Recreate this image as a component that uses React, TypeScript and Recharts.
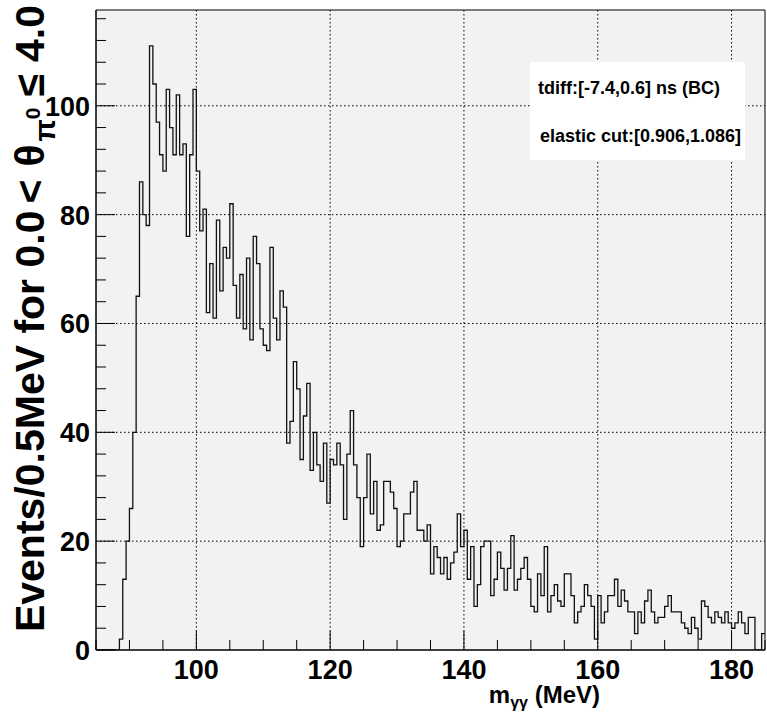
import React from "react";
import {
  ComposedChart,
  Line,
  XAxis,
  YAxis,
  CartesianGrid,
  ReferenceArea,
} from "recharts";

// histogram: 0.5 MeV bins starting at 85 MeV
const binLow = 85;
const binWidth = 0.5;
const counts = [
  0, 0, 0, 0, 0, 0, 0, 2, 13, 20,
  26, 40, 65, 86, 80, 78, 111, 104, 97, 91,
  88, 103, 96, 91, 102, 91, 93, 76, 91, 103,
  88, 77, 81, 62, 71, 61, 79, 66, 74, 72,
  82, 67, 61, 69, 59, 72, 57, 76, 71, 59,
  56, 55, 74, 61, 57, 66, 63, 38, 42, 53,
  48, 35, 43, 49, 33, 40, 34, 31, 38, 27,
  35, 34, 38, 34, 24, 36, 44, 34, 28, 19,
  28, 36, 25, 31, 22, 23, 31, 31, 29, 26,
  19, 20, 25, 25, 29, 31, 22, 22, 20, 23,
  14, 19, 17, 14, 17, 13, 16, 18, 25, 19,
  22, 13, 19, 8, 12, 19, 20, 20, 10, 13,
  18, 15, 11, 15, 21, 11, 13, 15, 17, 13,
  8, 7, 14, 10, 19, 7, 10, 12, 9, 8,
  14, 14, 10, 5, 7, 8, 12, 10, 8, 2,
  10, 5, 7, 10, 10, 13, 8, 11, 9, 7,
  7, 3, 7, 5, 9, 11, 7, 5, 6, 6,
  8, 10, 7, 7, 7, 5, 4, 3, 6, 4,
  2, 9, 8, 6, 5, 7, 6, 5, 7, 5,
  4, 5, 7, 5, 3, 6, 6, 0, 0, 3,
];

const xMin = 85;
const xMax = 185;
const yMax = 117.6;
const xTicks = [85, 90, 95, 100, 105, 110, 115, 120, 125, 130, 135, 140, 145, 150, 155, 160, 165, 170, 175, 180, 185];
const xLabels = [100, 120, 140, 160, 180];
const yTicks = [0, 4, 8, 12, 16, 20, 24, 28, 32, 36, 40, 44, 48, 52, 56, 60, 64, 68, 72, 76, 80, 84, 88, 92, 96, 100, 104, 108, 112, 116];
const yLabels = [0, 20, 40, 60, 80, 100];
const infoLines = ["tdiff:[-7.4,0.6] ns (BC)", "elastic cut:[0.906,1.086]"];

// step line needs one point per bin edge
const data = counts.map((c, i) => ({ x: binLow + i * binWidth, y: c }));
data.push({ x: binLow + counts.length * binWidth, y: counts[counts.length - 1] });

const font = "'Liberation Sans', Arial, Helvetica, sans-serif";

function XTick(props: any) {
  const { x, y, payload } = props;
  const major = xLabels.includes(payload.value);
  return (
    <g>
      <line x1={x} y1={y} x2={x} y2={y - (major ? 19 : 10)} stroke="#000" strokeWidth={1} />
      {major && (
        <text x={x} y={y + 29} textAnchor="middle" fontFamily={font} fontWeight="bold" fontSize={27} fill="#000">
          {payload.value}
        </text>
      )}
    </g>
  );
}

function YTick(props: any) {
  const { x, y, payload } = props;
  const major = yLabels.includes(payload.value);
  return (
    <g>
      <line x1={x} y1={y} x2={x + (major ? 19 : 10)} y2={y} stroke="#000" strokeWidth={1} />
      {major && (
        <text x={x - 6} y={y + 10} textAnchor="end" fontFamily={font} fontWeight="bold" fontSize={27} fill="#000">
          {payload.value}
        </text>
      )}
    </g>
  );
}

export default function App() {
  return (
    <div style={{ position: "fixed", left: 0, top: 0, width: 767, height: 712, background: "#fff" }}>
      <ComposedChart width={767} height={712} data={data} margin={{ top: 10, right: 2, left: 10, bottom: 10 }}>
        <CartesianGrid
          fill="#f2f2f2"
          stroke="#000"
          strokeDasharray="1.5 2.5"
          verticalValues={xLabels}
          horizontalValues={[20, 40, 60, 80, 100]}
        />
        <XAxis
          type="number"
          dataKey="x"
          domain={[xMin, xMax]}
          ticks={xTicks}
          interval={0}
          tick={<XTick />}
          tickSize={0}
          tickMargin={0}
          tickLine={false}
          axisLine={{ stroke: "#000" }}
          height={52}
          allowDataOverflow
        />
        <YAxis
          type="number"
          domain={[0, yMax]}
          ticks={yTicks}
          interval={0}
          tick={<YTick />}
          tickSize={0}
          tickMargin={0}
          tickLine={false}
          axisLine={{ stroke: "#000" }}
          width={86}
          allowDataOverflow
        />
        <ReferenceArea x1={xMin} x2={xMax} y1={0} y2={yMax} fill="none" stroke="#000" strokeWidth={1} />
        <Line
          type="stepAfter"
          dataKey="y"
          stroke="#111"
          strokeWidth={1.3}
          dot={false}
          isAnimationActive={false}
        />
      </ComposedChart>

      <svg width={767} height={712} style={{ position: "absolute", left: 0, top: 0, pointerEvents: "none" }}>
        <text
          transform="translate(44,5) rotate(-90)"
          textAnchor="end"
          fontFamily={font}
          fontWeight="bold"
          fontSize={41}
          fill="#000"
        >
          Events/0.5MeV for 0.0
          <tspan dx={7}>&lt;</tspan>
          <tspan dx={13}>θ</tspan>
          <tspan dx={3} dy={11} fontSize={29}>π</tspan>
          <tspan dy={-15} fontSize={21}>0</tspan>
          <tspan dx={11} dy={4}>≤</tspan>
          <tspan dx={12}>4.0</tspan>
        </text>
        <text x={600} y={703} textAnchor="end" fontFamily={font} fontWeight="bold" fontSize={24} fill="#000">
          m<tspan dy={5} fontSize={16}>γγ</tspan>
          <tspan dy={-5}> (MeV)</tspan>
        </text>
      </svg>

      <div
        style={{
          position: "absolute",
          left: 530,
          top: 62,
          width: 215,
          height: 98,
          background: "#fff",
          fontFamily: font,
          fontWeight: "bold",
          fontSize: 18,
          color: "#000",
          whiteSpace: "nowrap",
        }}
      >
        <div style={{ position: "absolute", left: 8, top: 16 }}>{infoLines[0]}</div>
        <div style={{ position: "absolute", left: 10, top: 64 }}>{infoLines[1]}</div>
      </div>
    </div>
  );
}
